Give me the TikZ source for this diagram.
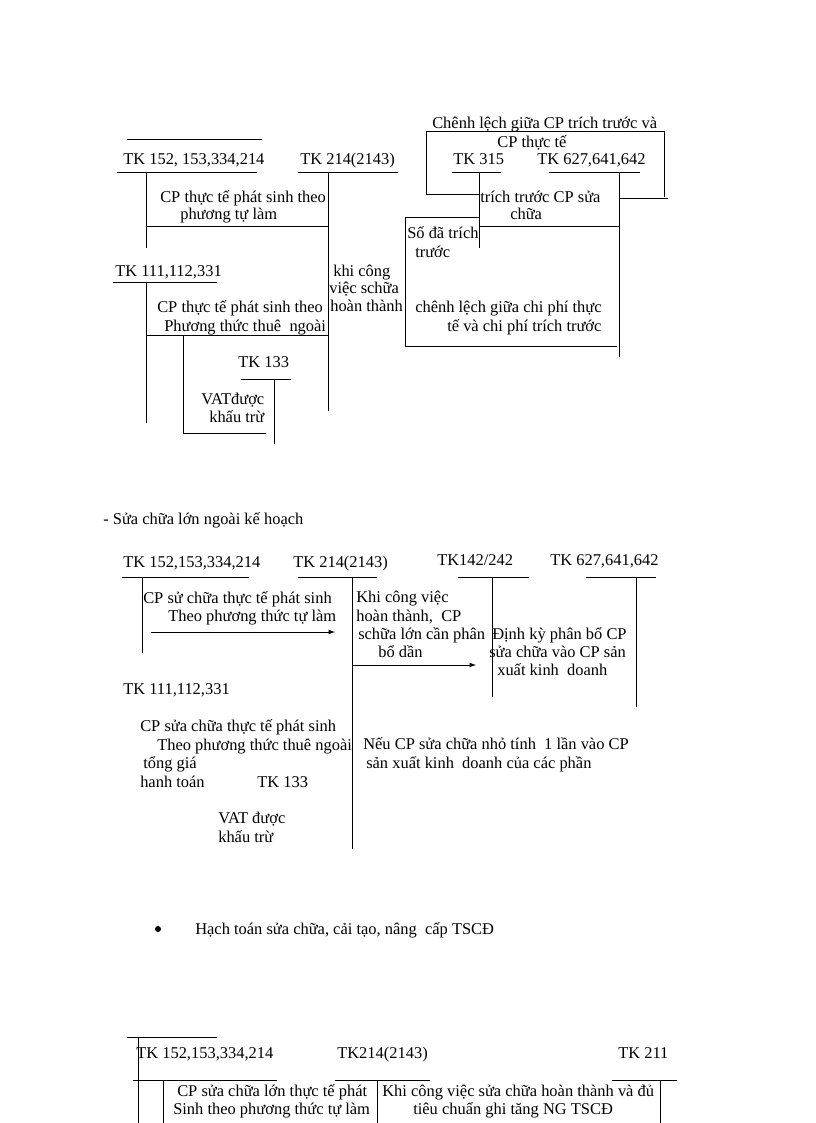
\documentclass[tikz,border=0pt]{standalone}
\usepackage{fontspec}
\setmainfont{Liberation Serif}
\usepackage{tikz}
\usetikzlibrary{shapes}

\tikzset{
  txt/.style={anchor=west,inner sep=0pt,text height=10.5pt,text depth=2.5pt,font=\fontsize{12}{14}\selectfont},
  ln/.style={draw=black,line width=0.6pt}
}

\begin{document}
\begin{tikzpicture}[x=0.7295pt,y=-0.7295pt]
\useasboundingbox (0,0) rectangle (816,1123);

% first scheme, left part
\node[txt] (0) at (123,159) {TK 152, 153,334,214};
\node[txt] (1) at (300,159) {TK 214(2143)};
\node[txt] (2) at (160,197) {CP thực tế phát sinh theo};
\node[txt] (3) at (180,214) {phương tự làm};
\node[txt] (4) at (115,271) {TK 111,112,331};
\node[txt] (5) at (157,307) {CP thực tế phát sinh theo};
\node[txt] (6) at (164,326) {Phương thức thuê\ \ ngoài};
\node[txt] (7) at (238,362) {TK 133};
\node[txt] (8) at (201,399) {VATđược};
\node[txt] (9) at (209,417) {khấu trừ};
\node[txt] (10) at (333,271) {khi công};
\node[txt] (11) at (329,288) {việc schữa};
\node[txt] (12) at (330,306) {hoàn thành};

\path [ln] (127,139) -- (262,139);
\path [ln] (117,172) -- (257,172);
\path [ln] (298,172) -- (398,172);
\path [ln] (146,172) -- (146,248);
\path [ln] (146,226) -- (328,226);
\path [ln] (328,172) -- (328,411);
\path [ln] (113,282) -- (217,282);
\path [ln] (146,282) -- (146,423);
\path [ln] (146,335) -- (328,335);
\path [ln] (183,335) -- (183,433) -- (266,433);
\path [ln] (241,379) -- (291,379);
\path [ln] (274,379) -- (274,444);

% first scheme, right part
\node[txt] (13) at (432,123) {Chênh lệch giữa CP trích trước và};
\node[txt] (14) at (497,142) {CP thực tế};
\node[txt] (15) at (453,159) {TK 315};
\node[txt] (16) at (537,159) {TK 627,641,642};
\node[txt] (17) at (480,197) {trích trước CP sửa};
\node[txt] (18) at (510,214) {chữa};
\node[txt] (19) at (407,233) {Số đã trích};
\node[txt] (20) at (415,252) {trước};
\node[txt] (21) at (415,307) {chênh lệch giữa chi phí thực};
\node[txt] (22) at (447,326) {tế và chi phí trích trước};

\path [ln] (479,194) -- (426,194) -- (426,131) -- (664,131) -- (664,197);
\path [ln] (452,172) -- (501,172);
\path [ln] (549,172) -- (640,172);
\path [ln] (479,172) -- (479,248);
\path [ln] (619,172) -- (619,357);
\path [ln] (619,198) -- (668,198);
\path [ln] (479,226) -- (619,226);
\path [ln] (479,217) -- (405,217) -- (405,346) -- (617,346);

% second scheme
\node[txt] (23) at (103,519) {- Sửa chữa lớn\ ngoài\ kế hoạch};
\node[txt] (24) at (123,562) {TK 152,153,334,214};
\node[txt] (25) at (293,562) {TK 214(2143)};
\node[txt] (26) at (437,560) {TK142/242};
\node[txt] (27) at (550,560) {TK 627,641,642};
\node[txt] (28) at (143,598) {CP sử chữa thực tế phát sinh};
\node[txt] (29) at (168,616) {Theo phương thức tự làm};
\node[txt] (30) at (356,597) {Khi công việc};
\node[txt] (31) at (356,616) {hoàn thành,\ \ CP};
\node[txt] (32) at (358,634) {schữa lớn\ cần phân};
\node[txt] (33) at (378,652) {bổ dần};
\node[txt] (34) at (492,634) {Định\ kỳ phân bổ CP};
\node[txt] (35) at (489,652) {sửa chữa vào CP sản};
\node[txt] (36) at (497,670) {xuất kinh\ \ doanh};
\node[txt] (37) at (123,689) {TK 111,112,331};
\node[txt] (38) at (140,726) {CP sửa chữa thực tế phát sinh};
\node[txt] (39) at (157,745) {Theo phương thức thuê ngoài};
\node[txt] (40) at (143,763) {tổng giá};
\node[txt] (41) at (140,782) {hanh toán};
\node[txt] (42) at (257,782) {TK 133};
\node[txt] (43) at (218,818) {VAT được};
\node[txt] (44) at (218,837) {khấu trừ};
\node[txt] (45) at (363,744) {Nếu CP sửa chữa nhỏ tính\ \ 1 lần vào CP};
\node[txt] (46) at (366,763) {sản xuất kinh\ \ doanh của các phần};

\path [ln] (122,577) -- (249,577);
\path [ln] (298,577) -- (377,577);
\path [ln] (458,577) -- (529,577);
\path [ln] (586,577) -- (656,577);
\path [ln] (142,577) -- (142,653);
\path [ln] (352,577) -- (352,849);
\path [ln] (492,577) -- (492,697);
\path [ln] (636,577) -- (636,707);
\path [->,>=latex,ln] (151,632) -- (335,632);
\path [->,>=latex,ln] (352,665) -- (476,665);

% third scheme
\fill (158,929) circle (3);
\node[txt] (47) at (195,929) {Hạch toán sửa chữa, cải tạo, nâng\ \ cấp TSCĐ};
\node[txt] (48) at (136,1053) {TK 152,153,334,214};
\node[txt] (49) at (337,1053) {TK214(2143)};
\node[txt] (50) at (618,1053) {TK 211};
\node[txt] (51) at (177,1091) {CP sửa chữa lớn\ thực tế phát};
\node[txt] (52) at (173,1109) {Sinh\ theo phương thức tự làm};
\node[txt] (53) at (382,1091) {Khi công việc\ sửa chữa hoàn thành\ và đủ};
\node[txt] (54) at (413,1109) {tiêu chuẩn ghi\ tăng NG TSCĐ};

\path [ln] (127,1037) -- (217,1037);
\path [ln] (138,1037) -- (138,1123);
\path [ln] (133,1080) -- (277,1080);
\path [ln] (335,1080) -- (430,1080);
\path [ln] (612,1080) -- (677,1080);
\path [ln] (163,1080) -- (163,1123);
\path [ln] (377,1080) -- (377,1123);
\path [ln] (660,1080) -- (660,1123);
\end{tikzpicture}
\end{document}
